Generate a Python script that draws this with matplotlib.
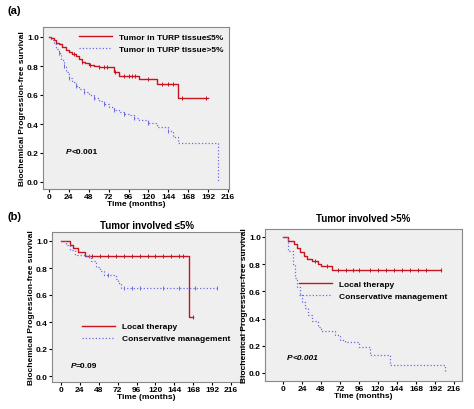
import matplotlib
matplotlib.use("Agg")
import matplotlib.pyplot as plt

plt.rcParams['font.family'] = ['Liberation Sans', 'DejaVu Sans']
plt.rcParams['font.weight'] = 'bold'

# Panel (a)
a_red_t = [0, 3, 6, 9, 12, 16, 20, 24, 28, 32, 36, 40, 44, 48, 54, 60, 72, 78, 84, 108, 130, 156, 192]
a_red_s = [1.0, 0.99, 0.98, 0.96, 0.95, 0.93, 0.91, 0.90, 0.88, 0.87, 0.85, 0.83, 0.82, 0.81, 0.80, 0.795, 0.79, 0.76, 0.73, 0.71, 0.675, 0.58, 0.58]
a_red_c = [30, 40, 50, 60, 66, 70, 80, 90, 96, 100, 104, 120, 136, 144, 150, 160, 190]
a_blu_t = [0, 3, 6, 9, 12, 15, 18, 21, 24, 28, 32, 36, 42, 48, 54, 60, 66, 72, 78, 84, 90, 96, 102, 108, 120, 130, 144, 150, 156, 204, 204]
a_blu_s = [1.0, 0.98, 0.95, 0.92, 0.89, 0.84, 0.80, 0.76, 0.72, 0.69, 0.66, 0.64, 0.62, 0.60, 0.58, 0.56, 0.54, 0.52, 0.50, 0.48, 0.47, 0.46, 0.44, 0.43, 0.41, 0.38, 0.35, 0.31, 0.27, 0.27, 0.0]

# Panel (b) left: tumor involved <=5%
bl_red_t = [0, 12, 15, 22, 30, 36, 163, 168]
bl_red_s = [1.0, 0.97, 0.95, 0.92, 0.89, 0.89, 0.44, 0.44]
bl_red_c = [40, 50, 60, 70, 80, 90, 100, 110, 120, 130, 140, 150, 155, 168]
bl_blu_t = [0, 6, 12, 18, 30, 38, 44, 50, 54, 70, 72, 76, 198]
bl_blu_s = [1.0, 0.97, 0.93, 0.90, 0.89, 0.85, 0.81, 0.78, 0.75, 0.72, 0.69, 0.65, 0.65]
bl_blu_c = [36, 60, 80, 90, 100, 130, 150, 170, 198]

# Panel (b) right: tumor involved >5%
br_red_t = [0, 4, 6, 14, 18, 22, 26, 30, 36, 44, 48, 62, 200]
br_red_s = [1.0, 1.0, 0.97, 0.95, 0.92, 0.89, 0.86, 0.84, 0.82, 0.80, 0.79, 0.76, 0.76]
br_red_c = [40, 56, 70, 80, 88, 96, 110, 120, 130, 140, 150, 160, 170, 180, 200]
br_blu_t = [0, 6, 12, 15, 18, 21, 24, 28, 32, 36, 44, 48, 66, 72, 78, 96, 110, 135, 205, 205]
br_blu_s = [1.0, 0.9, 0.8, 0.7, 0.63, 0.57, 0.52, 0.48, 0.43, 0.38, 0.34, 0.31, 0.28, 0.24, 0.23, 0.19, 0.13, 0.06, 0.06, 0.0]

xticks = [0, 24, 48, 72, 96, 120, 144, 168, 192, 216]
yticks = [0.0, 0.2, 0.4, 0.6, 0.8, 1.0]
RED = '#c8141e'
BLUE = '#6a6ae8'
W, H = 474, 410

fig = plt.figure(figsize=(4.74, 4.1), dpi=100)

def surv_at(t, ts, ss):
    v = ss[0]
    for ti, si in zip(ts, ss):
        if ti <= t:
            v = si
    return v

def mk_ax(x0, y0, x1, y1, xpx0, xpx216, ypx1, ypx0):
    ax = fig.add_axes([x0 / W, 1 - y1 / H, (x1 - x0) / W, (y1 - y0) / H])
    mpp = 216 / (xpx216 - xpx0)
    upp = 1.0 / (ypx0 - ypx1)
    ax.set_xlim(-(xpx0 - x0) * mpp, 216 + (x1 - xpx216) * mpp)
    ax.set_ylim(-(y1 - ypx0) * upp, 1 + (ypx1 - y0) * upp)
    ax.set_facecolor('#efefef')
    for s in ax.spines.values():
        s.set_color('#888888')
        s.set_linewidth(0.8)
    ax.set_xticks(xticks)
    ax.set_yticks(yticks)
    ax.set_yticklabels([f'{v:.1f}' for v in yticks])
    ax.tick_params(labelsize=6, length=2, pad=1)
    ax.set_xlabel('Time (months)', fontsize=6, fontweight='bold', labelpad=0)
    ax.set_ylabel('Biochemical Progression-free survival', fontsize=6, fontweight='bold', labelpad=1)
    return ax

def curve(ax, t, s, c, color, ls, label):
    ax.plot(t, s, drawstyle='steps-post', color=color, ls=ls, lw=1.0 if ls == '-' else 0.9, label=label)
    if c:
        ax.plot(c, [surv_at(x, t, s) for x in c], ls='none', marker='|', ms=2.5, color=color, mew=0.7)

def ptext(ax, x, y, rest, all_italic=False):
    t = ax.text(x, y, 'P', fontsize=6, fontweight='bold', fontstyle='italic')
    ax.annotate(rest, xycoords=t, xy=(1, 0), va='bottom', fontsize=6, fontweight='bold',
                fontstyle='italic' if all_italic else 'normal')

# (a)
fig.text(8 / W, 1 - 14 / H, '(a)', fontsize=8, fontweight='bold')
ax = mk_ax(43, 28, 229, 190, 49, 228, 38, 183)
curve(ax, a_red_t, a_red_s, a_red_c, RED, '-', 'Tumor in TURP tissue≤5%')
curve(ax, a_blu_t, a_blu_s, a_blu_t[4:-3:2], BLUE, ':', 'Tumor in TURP tissue>5%')
ax.legend(loc='upper right', frameon=False, handlelength=4, borderaxespad=0.3,
          prop={'weight': 'bold', 'size': 6})
ptext(ax, 20, 0.2, '<0.001')

# (b)
fig.text(8 / W, 1 - 220 / H, '(b)', fontsize=8, fontweight='bold')
ax = mk_ax(52, 233, 241, 383, 61, 231, 242, 377)
ax.set_title('Tumor involved ≤5%', fontsize=7, fontweight='bold', pad=3)
curve(ax, bl_red_t, bl_red_s, bl_red_c, RED, '-', 'Local therapy')
curve(ax, bl_blu_t, bl_blu_s, bl_blu_c, BLUE, ':', 'Conservative management')
ax.legend(loc='center', bbox_to_anchor=(0.55, 0.33), frameon=False, handlelength=4,
          prop={'weight': 'bold', 'size': 6})
ptext(ax, 12, 0.07, '=0.09')

ax = mk_ax(265, 230, 462, 382, 283, 454, 238, 374)
ax.set_title('Tumor involved >5%', fontsize=7, fontweight='bold', pad=6)
curve(ax, br_red_t, br_red_s, br_red_c, RED, '-', 'Local therapy')
curve(ax, br_blu_t, br_blu_s, None, BLUE, ':', 'Conservative management')
ax.legend(loc='center', bbox_to_anchor=(0.55, 0.6), frameon=False, handlelength=4,
          prop={'weight': 'bold', 'size': 6})
ptext(ax, 5, 0.1, '<0.001', all_italic=True)

fig.savefig('out.png', dpi=100)
